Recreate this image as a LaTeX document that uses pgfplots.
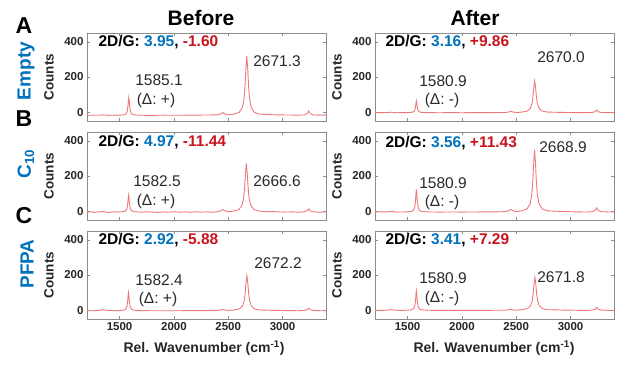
\documentclass[border=0pt]{standalone}
\usepackage{fontspec}
\setmainfont{Liberation Sans}
\usepackage{pgfplots}
\pgfplotsset{compat=1.18}
\definecolor{mblue}{RGB}{0,114,189}
\definecolor{mred}{RGB}{200,20,30}
\definecolor{linered}{RGB}{240,120,120}
\definecolor{axisgray}{RGB}{140,140,140}
\definecolor{labelgray}{RGB}{38,38,38}
\definecolor{anngray}{RGB}{40,40,40}
\newcommand{\fs}[1]{\fontsize{#1}{#1}\selectfont}
\pgfplotsset{
  raman/.style={
    scale only axis, width=239pt, height=88pt,
    xmin=1200, xmax=3400, ymin=-50, ymax=450,
    xtick={1500,2000,2500,3000}, ytick={0,200,400},
    tick align=inside, major tick length=3pt,
    axis line style={draw=axisgray, line width=0.6pt},
    tick style={draw=axisgray, line width=0.5pt},
    ticklabel style={font=\fs{11.5}\bfseries, text=labelgray},
    /pgf/number format/assume math mode=true,
    /pgf/number format/1000 sep={},
    scaled ticks=false,
    anchor=north west,
  },
  spec/.style={color=linered, line width=0.9pt, mark=none},
  nox/.style={xticklabels={}},
}
\begin{document}
\begin{tikzpicture}
\useasboundingbox (0pt,0pt) rectangle (635pt,-366pt);
% ---------------- Row A ----------------
\begin{axis}[raman, nox, at={(87pt,-33pt)}]
\addplot[spec] coordinates {
(1200,-18)(1250,-17)(1300,-17.5)(1330,-16)(1350,-15)(1370,-16)(1400,-18)(1450,-17)
(1500,-17)(1540,-14.9)(1560,-8.7)(1570,4.7)(1577,33.5)(1581,64.4)(1585,85)(1589,64.4)
(1593,33.5)(1600,4.7)(1610,-8.7)(1630,-14.9)(1700,-17.5)(1800,-18)(1900,-17)(2000,-17.5)
(2100,-17)(2200,-16.5)(2300,-16)(2400,-15)(2430,-10)(2450,-2)(2470,-10)(2500,-15)
(2550,-11.3)(2601,-1.1)(2631,29)(2646,79.7)(2655,150.5)(2663,251.6)(2671,319)(2679,251.6)
(2687,150.5)(2696,79.7)(2711,29)(2741,-1.1)(2791,-11.3)(2921,-14.6)(3050,-16)(3150,-16.5)
(3200,-15.5)(3225,-8)(3240,7)(3255,-8)(3280,-15.5)(3350,-17)(3400,-17)};
\end{axis}
\begin{axis}[raman, nox, at={(375pt,-33pt)}]
\addplot[spec] coordinates {
(1200,-3)(1250,-2.5)(1300,-2.5)(1330,-1.5)(1350,0)(1370,-1.5)(1400,-3)(1450,-2.5)
(1496,-2.3)(1536,-1)(1556,3)(1566,11.7)(1573,30.5)(1577,50.6)(1581,64)(1585,50.6)
(1589,30.5)(1596,11.7)(1606,3)(1626,-1)(1700,-2.7)(1800,-3)(1900,-2.5)(2000,-3)
(2100,-2.5)(2200,-2.5)(2300,-2)(2400,-1.8)(2430,1)(2450,5)(2470,1)(2500,-1.8)
(2550,0.6)(2600,6)(2630,22.2)(2645,49.2)(2654,87)(2662,141)(2670,177)(2678,141)
(2686,87)(2695,49.2)(2710,22.2)(2740,6)(2790,0.6)(2920,-1.2)(3050,-2.5)(3150,-2.5)
(3200,-1.5)(3225,3)(3240,12)(3255,3)(3280,-1.5)(3350,-2.5)(3400,-2.5)};
\end{axis}
% ---------------- Row B ----------------
\begin{axis}[raman, nox, at={(87pt,-132pt)}]
\addplot[spec] coordinates {
(1200,-6)(1230,-3)(1260,-7)(1300,-4)(1330,-3)(1350,-2)(1370,-5)(1400,-7)(1450,-4)
(1498,-4)(1538,-2)(1558,3.7)(1568,16.3)(1575,43.5)(1579,72.6)(1583,92)(1587,72.6)
(1591,43.5)(1598,16.3)(1608,3.7)(1628,-2)(1700,-6)(1750,-3)(1800,-5)(1850,-7)(1900,-4)
(1950,-6)(2000,-3)(2050,-6)(2100,-4)(2150,-6)(2200,-3)(2250,-5)(2300,-4)(2350,-6)
(2400,-3)(2430,2)(2450,9)(2470,2)(2500,-3)(2547,0.5)(2597,8.9)(2627,33.8)(2642,75.3)
(2651,133.5)(2659,216.6)(2667,272)(2675,216.6)(2683,133.5)(2692,75.3)(2707,33.8)
(2737,8.9)(2787,0.5)(2850,-3)(2917,-2.2)(3000,-5)(3100,-4)(3150,-6)(3200,-3)(3225,2)
(3240,13)(3255,2)(3280,-3)(3330,-6)(3400,-4)};
\end{axis}
\begin{axis}[raman, nox, at={(375pt,-132pt)}]
\addplot[spec] coordinates {
(1200,-5)(1250,-4)(1300,-4)(1330,-3)(1350,-1)(1370,-3)(1400,-5)(1450,-4.5)
(1496,-3.7)(1536,-1.1)(1556,6.6)(1566,23.4)(1573,59.5)(1577,98.2)(1581,124)(1585,98.2)
(1589,59.5)(1596,23.4)(1606,6.6)(1626,-1.1)(1700,-4.5)(1800,-5)(1900,-4.5)(2000,-5)
(2100,-4.5)(2200,-4)(2300,-4)(2400,-2.5)(2430,2.5)(2450,10)(2470,2.5)(2500,-2.5)
(2549,2)(2599,12.7)(2629,44.4)(2644,97.4)(2653,171.5)(2661,277.4)(2669,348)(2677,277.4)
(2685,171.5)(2694,97.4)(2709,44.4)(2739,12.7)(2789,2)(2919,-1.5)(3050,-4)(3150,-4.5)
(3200,-2.6)(3225,4.6)(3240,19)(3255,4.6)(3280,-2.6)(3350,-4.5)(3400,-4.5)};
\end{axis}
% ---------------- Row C ----------------
\begin{axis}[raman, at={(87pt,-231pt)}]
\addplot[spec] coordinates {
(1200,-3)(1250,-3)(1300,-2)(1330,0)(1350,3)(1370,0)(1400,-2)(1450,-3)
(1497,-2)(1537,0.1)(1557,6.3)(1567,19.7)(1574,48.5)(1578,79.4)(1582,100)(1586,79.4)
(1590,48.5)(1597,19.7)(1607,6.3)(1627,0.1)(1700,-2.5)(1800,-3)(1900,-3)(2000,-3)
(2100,-2.8)(2200,-2.8)(2300,-2.5)(2400,-1.8)(2430,1)(2450,5)(2470,1)(2500,-1.8)
(2552,1)(2602,7)(2632,24.9)(2647,54.7)(2656,96.5)(2664,156.2)(2672,196)(2680,156.2)
(2688,96.5)(2697,54.7)(2712,24.9)(2742,7)(2792,1)(2922,-1)(3050,-2.5)(3150,-3)
(3200,-1.6)(3225,2.6)(3240,11)(3255,2.6)(3280,-1.6)(3350,-3)(3400,-3)};
\end{axis}
\begin{axis}[raman, at={(375pt,-231pt)}]
\addplot[spec] coordinates {
(1200,-1)(1250,-1)(1300,-0.4)(1330,1)(1350,3)(1370,1)(1400,-0.4)(1450,-1)
(1496,0.1)(1536,2.3)(1556,8.9)(1566,23.2)(1573,54)(1577,87)(1581,109)(1585,87)
(1589,54)(1596,23.2)(1606,8.9)(1626,2.3)(1700,-0.5)(1800,-1)(1900,-1)(2000,-1)
(2100,-0.8)(2200,-0.8)(2300,-0.5)(2400,0)(2430,2)(2450,5)(2470,2)(2500,0)
(2552,2.8)(2602,8.4)(2632,25.3)(2647,53.5)(2656,93)(2664,149.4)(2672,187)(2680,149.4)
(2688,93)(2697,53.5)(2712,25.3)(2742,8.4)(2792,2.8)(2922,0.9)(3050,-0.5)(3150,-1)
(3200,0.7)(3225,5.8)(3240,16)(3255,5.8)(3280,0.7)(3350,-1)(3400,-1)};
\end{axis}
% ---------------- Titles and labels ----------------
\node[font=\fs{21}\bfseries] at (201pt,-18pt) {Before};
\node[font=\fs{21}\bfseries] at (475pt,-18pt) {After};
\node[font=\fs{23}\bfseries] at (24pt,-26pt) {A};
\node[font=\fs{23}\bfseries] at (24pt,-119pt) {B};
\node[font=\fs{23}\bfseries] at (24pt,-216pt) {C};
\node[font=\fs{19}\bfseries, text=mblue, rotate=90] at (26pt,-71pt) {Empty};
\node[font=\fs{19}\bfseries, text=mblue, rotate=90] at (26pt,-164pt) {C\textsubscript{10}};
\node[font=\fs{19}\bfseries, text=mblue, rotate=90] at (27pt,-264pt) {PFPA};
\foreach \x in {49,337} {
  \foreach \y in {77,176,275} {
    \node[font=\fs{13.5}\bfseries, text=labelgray, rotate=90] at (\x pt,-\y pt) {Counts};
  }
}
\node[font=\fs{14}\bfseries, text=labelgray] at (204pt,-348pt) {Rel. Wavenumber (cm\textsuperscript{-1})};
\node[font=\fs{14}\bfseries, text=labelgray] at (494pt,-348pt) {Rel. Wavenumber (cm\textsuperscript{-1})};
% 2D/G
\node[font=\fs{15.5}\bfseries, anchor=west] at (95pt,-42pt) {2D/G: \textcolor{mblue}{3.95}, \textcolor{mred}{-1.60}};
\node[font=\fs{15.5}\bfseries, anchor=west] at (382pt,-42pt) {2D/G: \textcolor{mblue}{3.16}, \textcolor{mred}{+9.86}};
\node[font=\fs{15.5}\bfseries, anchor=west] at (95pt,-142pt) {2D/G: \textcolor{mblue}{4.97}, \textcolor{mred}{-11.44}};
\node[font=\fs{15.5}\bfseries, anchor=west] at (382pt,-143pt) {2D/G: \textcolor{mblue}{3.56}, \textcolor{mred}{+11.43}};
\node[font=\fs{15.5}\bfseries, anchor=west] at (95pt,-240pt) {2D/G: \textcolor{mblue}{2.92}, \textcolor{mred}{-5.88}};
\node[font=\fs{15.5}\bfseries, anchor=west] at (382pt,-240pt) {2D/G: \textcolor{mblue}{3.41}, \textcolor{mred}{+7.29}};
% peak annotations
\begin{scope}[every node/.style={font=\fs{15.5}, text=anngray}]
\node at (159pt,-80pt) {1585.1};
\node at (156pt,-100pt) {(Δ: +)};
\node at (277pt,-61pt) {2671.3};
\node at (561pt,-57pt) {2670.0};
\node at (443pt,-81pt) {1580.9};
\node at (442pt,-100pt) {(Δ: -)};
\node at (157pt,-181pt) {1582.5};
\node at (156pt,-201pt) {(Δ: +)};
\node at (277pt,-181pt) {2666.6};
\node at (563pt,-147pt) {2668.9};
\node at (443pt,-183pt) {1580.9};
\node at (442pt,-202pt) {(Δ: -)};
\node at (278pt,-263pt) {2672.2};
\node at (159pt,-280pt) {1582.4};
\node at (158pt,-299pt) {(Δ: +)};
\node at (561pt,-277pt) {2671.8};
\node at (443pt,-278pt) {1580.9};
\node at (442pt,-298pt) {(Δ: -)};
\end{scope}
\end{tikzpicture}
\end{document}
